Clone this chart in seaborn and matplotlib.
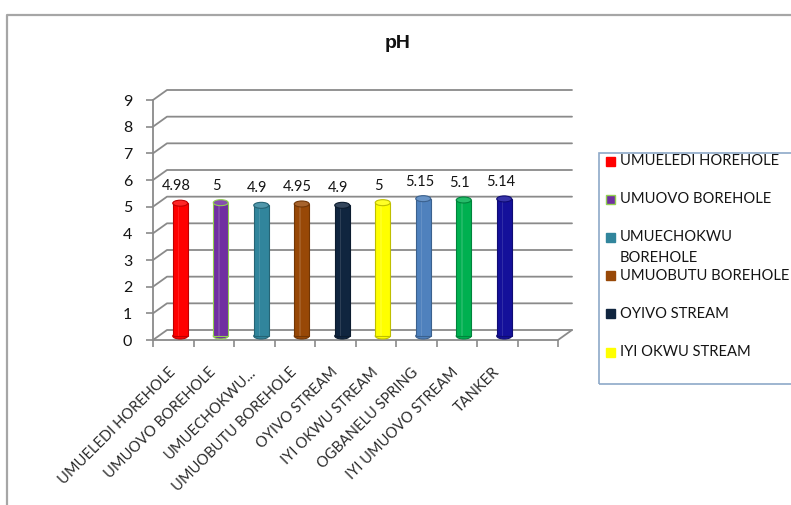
import matplotlib
matplotlib.use("Agg")
import matplotlib.pyplot as plt
from matplotlib import transforms as mtransforms
from matplotlib.patches import Ellipse, Rectangle
from matplotlib.lines import Line2D
from matplotlib.colors import to_rgb
import numpy as np
import pandas as pd
import seaborn as sns

# ---- data -------------------------------------------------------------
sites = ["UMUELEDI HOREHOLE", "UMUOVO BOREHOLE", "UMUECHOKWU BOREHOLE",
         "UMUOBUTU BOREHOLE", "OYIVO STREAM", "IYI OKWU STREAM",
         "OGBANELU SPRING", "IYI UMUOVO STREAM", "TANKER"]
axis_labels = ["UMUELEDI HOREHOLE", "UMUOVO BOREHOLE", "UMUECHOKWU...",
               "UMUOBUTU BOREHOLE", "OYIVO STREAM", "IYI OKWU STREAM",
               "OGBANELU SPRING", "IYI UMUOVO STREAM", "TANKER"]
legend_labels = ["UMUELEDI HOREHOLE", "UMUOVO BOREHOLE", "UMUECHOKWU\nBOREHOLE",
                 "UMUOBUTU BOREHOLE", "OYIVO STREAM", "IYI OKWU STREAM"]
ph_values = [4.98, 5, 4.9, 4.95, 4.9, 5, 5.15, 5.1, 5.14]
bar_colors = ["#ff0000", "#7030a0", "#31859c", "#984807", "#10253f",
              "#ffff00", "#4f81bd", "#00b050", "#14109a"]
bar_edges = [None, "#92d050", None, None, None, None, None, None, None]
y_ticks = list(range(10))
n_slots = 10

# ---- layout -----------------------------------------------------------
sns.set_theme(style="white")
plt.rcParams["font.family"] = ["Lato", "DejaVu Sans"]

W, H = 791, 505
fig = plt.figure(figsize=(W / 100, H / 100), dpi=100)
fig.patch.set_facecolor("white")

x0, x1, ybot, ytop = 153, 558, 340, 100
ax = fig.add_axes([x0 / W, 1 - ybot / H, (x1 - x0) / W, (ybot - ytop) / H])
ux = (x1 - x0) / n_slots          # pixels per category slot
uy = (ybot - ytop) / 9            # pixels per pH unit
depth_x, depth_y = 14, 10         # depth of the back wall in pixels
dx, dy = depth_x / ux, depth_y / uy

df = pd.DataFrame({"site": sites, "ph": ph_values})
sns.barplot(data=df, x="site", y="ph", hue="site", order=sites,
            hue_order=sites, palette=bar_colors, saturation=1,
            width=0.37, legend=False, ax=ax, zorder=3)
ax.set_xlim(-0.5, n_slots - 0.5)
ax.set_ylim(0, 9)
for s in ax.spines.values():
    s.set_visible(False)
ax.set_xlabel("")
ax.set_ylabel("")

grid_c = "#8a8a8a"
text_c = "#141414"

# back wall gridlines and the left wall edges
for y in y_ticks:
    ax.add_line(Line2D([-0.5, -0.5 + dx, n_slots - 0.5 + dx],
                       [y, y + dy, y + dy], color=grid_c, lw=1.3,
                       clip_on=False, zorder=1))
# floor front edge, right floor edge and the front vertical axis
ax.add_line(Line2D([-0.5, n_slots - 0.5, n_slots - 0.5 + dx], [0, 0, dy],
                   color=grid_c, lw=1.3, clip_on=False, zorder=1))
ax.add_line(Line2D([-0.5, -0.5], [0, 9], color=grid_c, lw=1.3,
                   clip_on=False, zorder=1))

# bars sit half-way into the depth, capped as cylinders
bar_tr = mtransforms.offset_copy(ax.transData, fig=fig, x=depth_x / 2,
                                 y=depth_y / 2 - 1, units="dots")
cap_h = 6 / uy


def shade(c, f):
    r, g, b = to_rgb(c)
    if f > 0:
        return (r + (1 - r) * f, g + (1 - g) * f, b + (1 - b) * f)
    return (r * (1 + f), g * (1 + f), b * (1 + f))


bars = ax.patches[:len(sites)]
for i, (p, v, c, e) in enumerate(zip(bars, ph_values, bar_colors, bar_edges)):
    p.set_transform(bar_tr)
    p.set_clip_on(False)
    edge = e if e else shade(c, -0.25)
    p.set_edgecolor(edge)
    p.set_linewidth(0.8)
    bw = p.get_width()
    bottom = Ellipse((i, 0), bw, cap_h, transform=bar_tr, facecolor=c,
                     edgecolor=edge, lw=0.8, zorder=2.9, clip_on=False)
    top = Ellipse((i, v), bw, cap_h, transform=bar_tr,
                  facecolor=shade(c, 0.15), edgecolor=edge, lw=0.8,
                  zorder=3.1, clip_on=False)
    ax.add_patch(bottom)
    ax.add_patch(top)
    # highlight strip gives the rounded look
    ax.add_patch(Rectangle((i - bw * 0.18, 0), bw * 0.12, v, transform=bar_tr,
                           facecolor="white", alpha=0.12, lw=0,
                           zorder=3.05, clip_on=False))

# value labels
lab_tr = mtransforms.offset_copy(ax.transData, fig=fig, x=3, y=21, units="dots")
for i, v in enumerate(ph_values):
    ax.text(i, v, f"{v:g}", transform=lab_tr, ha="center", va="center",
            fontsize=10.5, color=text_c, zorder=5)

# ticks
ax.set_yticks(y_ticks)
ax.set_yticklabels([str(t) for t in y_ticks], fontsize=11.5, color=text_c)
ax.tick_params(axis="y", direction="out", length=5, width=1.2,
               color=grid_c, pad=10, left=True)
ax.set_xticks(range(len(sites)))
ax.set_xticklabels(axis_labels, rotation=45, ha="right",
                   rotation_mode="anchor", fontsize=10.5, color="#2a2a2a")
ax.set_xticks(np.arange(-0.5, n_slots, 1), minor=True)
ax.tick_params(axis="x", which="major", length=0, pad=18)
ax.tick_params(axis="x", which="minor", direction="out", length=5,
               width=1.2, color=grid_c, bottom=True)
shift = mtransforms.ScaledTranslation(-5 / 100, 0, fig.dpi_scale_trans)
for t in ax.get_xticklabels():
    t.set_transform(t.get_transform() + shift)

# title
fig.text(398 / W, 1 - 44 / H, "pH", ha="center", va="center",
         fontsize=14, fontweight="bold", family=["Liberation Sans"],
         color="#111111")

# legend panel
fig.patches.append(Rectangle((599 / W, 1 - 384 / H), 220 / W, (384 - 153) / H,
                             transform=fig.transFigure, fill=False,
                             edgecolor="#8ea9c8", lw=1.2))
for i, (name, c, e) in enumerate(zip(legend_labels, bar_colors, bar_edges)):
    yc = 161 + 38.2 * i
    fig.patches.append(Rectangle((606 / W, 1 - (yc + 4.5) / H), 9 / W, 9 / H,
                                 transform=fig.transFigure, facecolor=c,
                                 edgecolor=e if e else c, lw=1))
    for j, line in enumerate(name.split("\n")):
        fig.text(620 / W, 1 - (yc + 21 * j) / H, line, ha="left",
                 va="center", fontsize=10.6, color=text_c)

# chart frame
fig.add_artist(Line2D([7 / W, 7 / W, 1], [0, 1 - 15 / H, 1 - 15 / H],
                      transform=fig.transFigure, color="#a6a6a6", lw=1.6))

fig.savefig("out.png", dpi=100)
